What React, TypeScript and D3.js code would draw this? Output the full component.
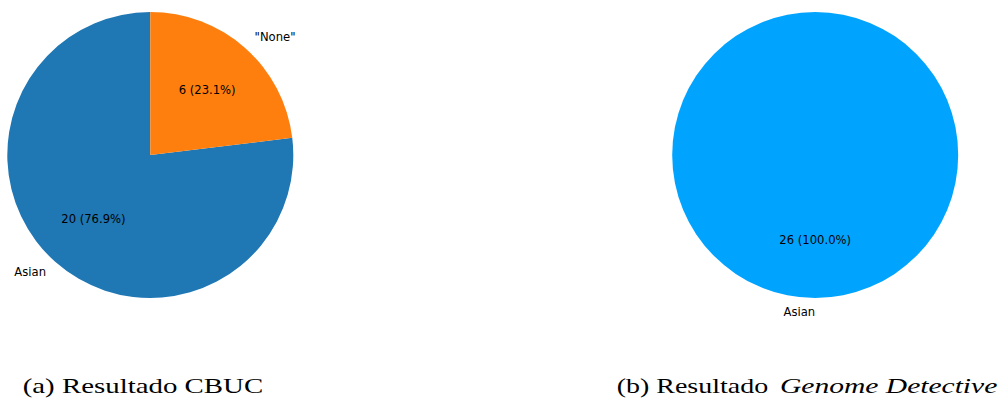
import React from "react";
import * as d3 from "d3";

const cbucLabels = ["Asian", "\"None\""];
const cbucValues = [20, 6];
const cbucColors = ["#1f77b4", "#ff7f0e"];

const gdLabels = ["Asian"];
const gdValues = [26];
const gdColors = ["#00a4ff"];

const R = 143;
const FS = 11.6;

function Pie({ cx, cy, labels, values, colors }: { cx: number; cy: number; labels: string[]; values: number[]; colors: string[] }) {
  const total = d3.sum(values);
  const pie = d3.pie<number>().sort(null).startAngle(0).endAngle(-2 * Math.PI);
  const arcs = pie(values);
  const arc = d3.arc<d3.PieArcDatum<number>>().innerRadius(0).outerRadius(R);
  const labelArc = d3.arc<d3.PieArcDatum<number>>().innerRadius(1.1 * R).outerRadius(1.1 * R);
  const pctArc = d3.arc<d3.PieArcDatum<number>>().innerRadius(0.6 * R).outerRadius(0.6 * R);
  return (
    <g transform={`translate(${cx},${cy})`}>
      {arcs.map((a, i) => (
        <path key={"p" + i} d={arc(a) || ""} fill={colors[i]} />
      ))}
      {arcs.map((a, i) => {
        const [lx, ly] = labelArc.centroid(a);
        const [px, py] = pctArc.centroid(a);
        const anchor = lx > 1e-6 ? "start" : "end";
        return (
          <g key={"t" + i} fontFamily="DejaVu Sans" fontSize={FS} fill="#000">
            <text x={lx} y={ly} dy="0.3em" textAnchor={anchor}>{labels[i]}</text>
            <text x={px} y={py} dy="0.3em" textAnchor="middle">
              {`${values[i]} (${((values[i] / total) * 100).toFixed(1)}%)`}
            </text>
          </g>
        );
      })}
    </g>
  );
}

export default function App() {
  return (
    <svg width={1005} height={403} style={{ position: "absolute", left: 0, top: 0, background: "#fff" }}>
      <rect width={1005} height={403} fill="#fff" />
      <Pie cx={150.3} cy={155} labels={cbucLabels} values={cbucValues} colors={cbucColors} />
      <Pie cx={815.2} cy={155} labels={gdLabels} values={gdValues} colors={gdColors} />
      <g fontFamily="Liberation Serif" fontSize={21} fill="#000">
        <text x={22.7} y={392.7} textLength={240.5} lengthAdjust="spacingAndGlyphs">(a) Resultado CBUC</text>
        <text x={616.7} y={392.7} textLength={151.5} lengthAdjust="spacingAndGlyphs">(b) Resultado</text>
        <text x={780} y={392.7} fontStyle="italic" textLength={217.3} lengthAdjust="spacingAndGlyphs">Genome Detective</text>
      </g>
    </svg>
  );
}
